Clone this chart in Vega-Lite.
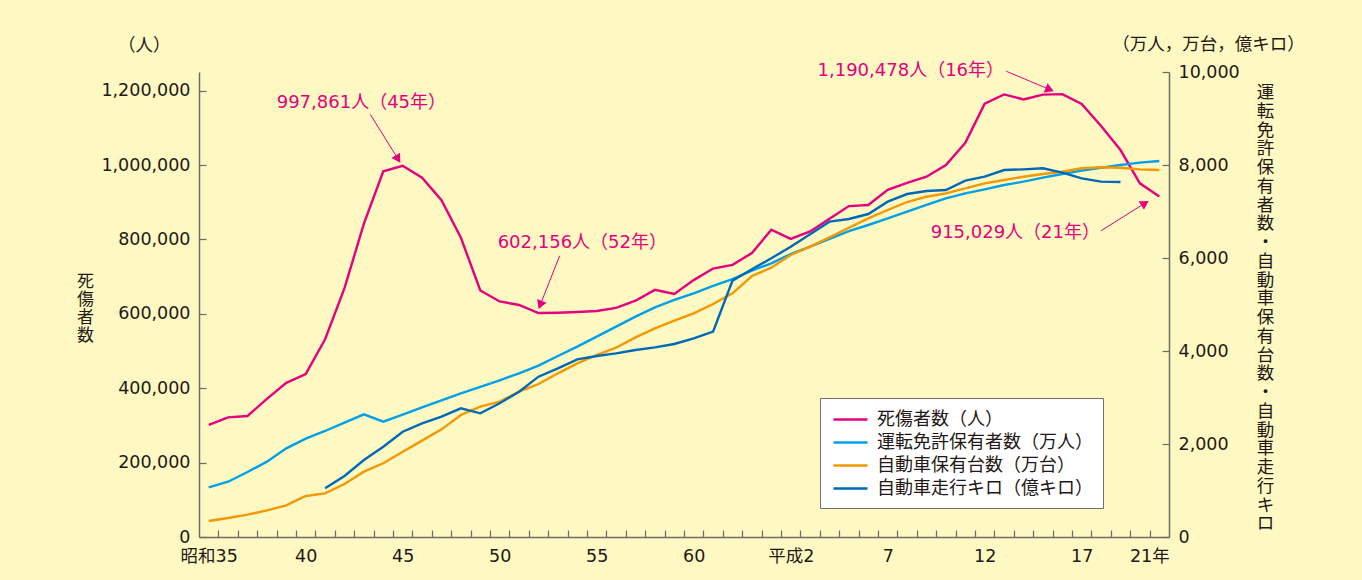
{
  "$schema": "https://vega.github.io/schema/vega-lite/v6.json",
  "width": 970,
  "height": 465,
  "autosize": "none",
  "padding": {"left": 199, "top": 72, "right": 193, "bottom": 43},
  "background": "#FEF8C3",
  "config": {
    "view": {"stroke": null},
    "axis": {
      "domainColor": "#6b6b6b",
      "domainWidth": 1.5,
      "tickColor": "#6b6b6b",
      "tickWidth": 1.2,
      "grid": false,
      "labelColor": "#231815",
      "labelFont": "DejaVu Sans, Noto Sans CJK JP",
      "labelFontSize": 17.5,
      "titleColor": "#231815",
      "titleFont": "Noto Sans CJK JP",
      "titleFontWeight": "normal"
    }
  },
  "datasets": {
    "series": [
      {"year": 1960, "s": "死傷者数（人）", "v": 301211},
      {"year": 1961, "s": "死傷者数（人）", "v": 321562},
      {"year": 1962, "s": "死傷者数（人）", "v": 325258},
      {"year": 1963, "s": "死傷者数（人）", "v": 371390},
      {"year": 1964, "s": "死傷者数（人）", "v": 414435},
      {"year": 1965, "s": "死傷者数（人）", "v": 438150},
      {"year": 1966, "s": "死傷者数（人）", "v": 531679},
      {"year": 1967, "s": "死傷者数（人）", "v": 668995},
      {"year": 1968, "s": "死傷者数（人）", "v": 842327},
      {"year": 1969, "s": "死傷者数（人）", "v": 983257},
      {"year": 1970, "s": "死傷者数（人）", "v": 997861},
      {"year": 1971, "s": "死傷者数（人）", "v": 965967},
      {"year": 1972, "s": "死傷者数（人）", "v": 905116},
      {"year": 1973, "s": "死傷者数（人）", "v": 804522},
      {"year": 1974, "s": "死傷者数（人）", "v": 662852},
      {"year": 1975, "s": "死傷者数（人）", "v": 633259},
      {"year": 1976, "s": "死傷者数（人）", "v": 623691},
      {"year": 1977, "s": "死傷者数（人）", "v": 602156},
      {"year": 1978, "s": "死傷者数（人）", "v": 602899},
      {"year": 1979, "s": "死傷者数（人）", "v": 604748},
      {"year": 1980, "s": "死傷者数（人）", "v": 607479},
      {"year": 1981, "s": "死傷者数（人）", "v": 616065},
      {"year": 1982, "s": "死傷者数（人）", "v": 635265},
      {"year": 1983, "s": "死傷者数（人）", "v": 664342},
      {"year": 1984, "s": "死傷者数（人）", "v": 653583},
      {"year": 1985, "s": "死傷者数（人）", "v": 690607},
      {"year": 1986, "s": "死傷者数（人）", "v": 721647},
      {"year": 1987, "s": "死傷者数（人）", "v": 731526},
      {"year": 1988, "s": "死傷者数（人）", "v": 763189},
      {"year": 1989, "s": "死傷者数（人）", "v": 825918},
      {"year": 1990, "s": "死傷者数（人）", "v": 801522},
      {"year": 1991, "s": "死傷者数（人）", "v": 821354},
      {"year": 1992, "s": "死傷者数（人）", "v": 855455},
      {"year": 1993, "s": "死傷者数（人）", "v": 889575},
      {"year": 1994, "s": "死傷者数（人）", "v": 892372},
      {"year": 1995, "s": "死傷者数（人）", "v": 933356},
      {"year": 1996, "s": "死傷者数（人）", "v": 952146},
      {"year": 1997, "s": "死傷者数（人）", "v": 968565},
      {"year": 1998, "s": "死傷者数（人）", "v": 999887},
      {"year": 1999, "s": "死傷者数（人）", "v": 1059403},
      {"year": 2000, "s": "死傷者数（人）", "v": 1164763},
      {"year": 2001, "s": "死傷者数（人）", "v": 1189786},
      {"year": 2002, "s": "死傷者数（人）", "v": 1176355},
      {"year": 2003, "s": "死傷者数（人）", "v": 1189133},
      {"year": 2004, "s": "死傷者数（人）", "v": 1190478},
      {"year": 2005, "s": "死傷者数（人）", "v": 1163984},
      {"year": 2006, "s": "死傷者数（人）", "v": 1104916},
      {"year": 2007, "s": "死傷者数（人）", "v": 1040189},
      {"year": 2008, "s": "死傷者数（人）", "v": 950659},
      {"year": 2009, "s": "死傷者数（人）", "v": 915029},

      {"year": 1960, "s": "運転免許保有者数（万人）", "v": 1069},
      {"year": 1961, "s": "運転免許保有者数（万人）", "v": 1189},
      {"year": 1962, "s": "運転免許保有者数（万人）", "v": 1398},
      {"year": 1963, "s": "運転免許保有者数（万人）", "v": 1620},
      {"year": 1964, "s": "運転免許保有者数（万人）", "v": 1907},
      {"year": 1965, "s": "運転免許保有者数（万人）", "v": 2114},
      {"year": 1966, "s": "運転免許保有者数（万人）", "v": 2280},
      {"year": 1967, "s": "運転免許保有者数（万人）", "v": 2458},
      {"year": 1968, "s": "運転免許保有者数（万人）", "v": 2638},
      {"year": 1969, "s": "運転免許保有者数（万人）", "v": 2480},
      {"year": 1970, "s": "運転免許保有者数（万人）", "v": 2630},
      {"year": 1971, "s": "運転免許保有者数（万人）", "v": 2790},
      {"year": 1972, "s": "運転免許保有者数（万人）", "v": 2940},
      {"year": 1973, "s": "運転免許保有者数（万人）", "v": 3090},
      {"year": 1974, "s": "運転免許保有者数（万人）", "v": 3230},
      {"year": 1975, "s": "運転免許保有者数（万人）", "v": 3370},
      {"year": 1976, "s": "運転免許保有者数（万人）", "v": 3520},
      {"year": 1977, "s": "運転免許保有者数（万人）", "v": 3684},
      {"year": 1978, "s": "運転免許保有者数（万人）", "v": 3892},
      {"year": 1979, "s": "運転免許保有者数（万人）", "v": 4093},
      {"year": 1980, "s": "運転免許保有者数（万人）", "v": 4308},
      {"year": 1981, "s": "運転免許保有者数（万人）", "v": 4523},
      {"year": 1982, "s": "運転免許保有者数（万人）", "v": 4738},
      {"year": 1983, "s": "運転免許保有者数（万人）", "v": 4939},
      {"year": 1984, "s": "運転免許保有者数（万人）", "v": 5097},
      {"year": 1985, "s": "運転免許保有者数（万人）", "v": 5241},
      {"year": 1986, "s": "運転免許保有者数（万人）", "v": 5398},
      {"year": 1987, "s": "運転免許保有者数（万人）", "v": 5548},
      {"year": 1988, "s": "運転免許保有者数（万人）", "v": 5727},
      {"year": 1989, "s": "運転免許保有者数（万人）", "v": 5886},
      {"year": 1990, "s": "運転免許保有者数（万人）", "v": 6086},
      {"year": 1991, "s": "運転免許保有者数（万人）", "v": 6243},
      {"year": 1992, "s": "運転免許保有者数（万人）", "v": 6409},
      {"year": 1993, "s": "運転免許保有者数（万人）", "v": 6577},
      {"year": 1994, "s": "運転免許保有者数（万人）", "v": 6710},
      {"year": 1995, "s": "運転免許保有者数（万人）", "v": 6853},
      {"year": 1996, "s": "運転免許保有者数（万人）", "v": 6996},
      {"year": 1997, "s": "運転免許保有者数（万人）", "v": 7140},
      {"year": 1998, "s": "運転免許保有者数（万人）", "v": 7283},
      {"year": 1999, "s": "運転免許保有者数（万人）", "v": 7391},
      {"year": 2000, "s": "運転免許保有者数（万人）", "v": 7477},
      {"year": 2001, "s": "運転免許保有者数（万人）", "v": 7570},
      {"year": 2002, "s": "運転免許保有者数（万人）", "v": 7641},
      {"year": 2003, "s": "運転免許保有者数（万人）", "v": 7727},
      {"year": 2004, "s": "運転免許保有者数（万人）", "v": 7806},
      {"year": 2005, "s": "運転免許保有者数（万人）", "v": 7878},
      {"year": 2006, "s": "運転免許保有者数（万人）", "v": 7942},
      {"year": 2007, "s": "運転免許保有者数（万人）", "v": 8000},
      {"year": 2008, "s": "運転免許保有者数（万人）", "v": 8050},
      {"year": 2009, "s": "運転免許保有者数（万人）", "v": 8086},

      {"year": 1960, "s": "自動車保有台数（万台）", "v": 344},
      {"year": 1961, "s": "自動車保有台数（万台）", "v": 409},
      {"year": 1962, "s": "自動車保有台数（万台）", "v": 480},
      {"year": 1963, "s": "自動車保有台数（万台）", "v": 574},
      {"year": 1964, "s": "自動車保有台数（万台）", "v": 681},
      {"year": 1965, "s": "自動車保有台数（万台）", "v": 882},
      {"year": 1966, "s": "自動車保有台数（万台）", "v": 939},
      {"year": 1967, "s": "自動車保有台数（万台）", "v": 1140},
      {"year": 1968, "s": "自動車保有台数（万台）", "v": 1405},
      {"year": 1969, "s": "自動車保有台数（万台）", "v": 1585},
      {"year": 1970, "s": "自動車保有台数（万台）", "v": 1835},
      {"year": 1971, "s": "自動車保有台数（万台）", "v": 2072},
      {"year": 1972, "s": "自動車保有台数（万台）", "v": 2315},
      {"year": 1973, "s": "自動車保有台数（万台）", "v": 2624},
      {"year": 1974, "s": "自動車保有台数（万台）", "v": 2803},
      {"year": 1975, "s": "自動車保有台数（万台）", "v": 2910},
      {"year": 1976, "s": "自動車保有台数（万台）", "v": 3125},
      {"year": 1977, "s": "自動車保有台数（万台）", "v": 3290},
      {"year": 1978, "s": "自動車保有台数（万台）", "v": 3520},
      {"year": 1979, "s": "自動車保有台数（万台）", "v": 3735},
      {"year": 1980, "s": "自動車保有台数（万台）", "v": 3914},
      {"year": 1981, "s": "自動車保有台数（万台）", "v": 4071},
      {"year": 1982, "s": "自動車保有台数（万台）", "v": 4294},
      {"year": 1983, "s": "自動車保有台数（万台）", "v": 4488},
      {"year": 1984, "s": "自動車保有台数（万台）", "v": 4652},
      {"year": 1985, "s": "自動車保有台数（万台）", "v": 4811},
      {"year": 1986, "s": "自動車保有台数（万台）", "v": 5011},
      {"year": 1987, "s": "自動車保有台数（万台）", "v": 5241},
      {"year": 1988, "s": "自動車保有台数（万台）", "v": 5613},
      {"year": 1989, "s": "自動車保有台数（万台）", "v": 5791},
      {"year": 1990, "s": "自動車保有台数（万台）", "v": 6065},
      {"year": 1991, "s": "自動車保有台数（万台）", "v": 6243},
      {"year": 1992, "s": "自動車保有台数（万台）", "v": 6445},
      {"year": 1993, "s": "自動車保有台数（万台）", "v": 6650},
      {"year": 1994, "s": "自動車保有台数（万台）", "v": 6853},
      {"year": 1995, "s": "自動車保有台数（万台）", "v": 7032},
      {"year": 1996, "s": "自動車保有台数（万台）", "v": 7204},
      {"year": 1997, "s": "自動車保有台数（万台）", "v": 7318},
      {"year": 1998, "s": "自動車保有台数（万台）", "v": 7391},
      {"year": 1999, "s": "自動車保有台数（万台）", "v": 7499},
      {"year": 2000, "s": "自動車保有台数（万台）", "v": 7606},
      {"year": 2001, "s": "自動車保有台数（万台）", "v": 7677},
      {"year": 2002, "s": "自動車保有台数（万台）", "v": 7748},
      {"year": 2003, "s": "自動車保有台数（万台）", "v": 7806},
      {"year": 2004, "s": "自動車保有台数（万台）", "v": 7856},
      {"year": 2005, "s": "自動車保有台数（万台）", "v": 7929},
      {"year": 2006, "s": "自動車保有台数（万台）", "v": 7950},
      {"year": 2007, "s": "自動車保有台数（万台）", "v": 7942},
      {"year": 2008, "s": "自動車保有台数（万台）", "v": 7907},
      {"year": 2009, "s": "自動車保有台数（万台）", "v": 7892},

      {"year": 1966, "s": "自動車走行キロ（億キロ）", "v": 1047},
      {"year": 1967, "s": "自動車走行キロ（億キロ）", "v": 1312},
      {"year": 1968, "s": "自動車走行キロ（億キロ）", "v": 1656},
      {"year": 1969, "s": "自動車走行キロ（億キロ）", "v": 1942},
      {"year": 1970, "s": "自動車走行キロ（億キロ）", "v": 2265},
      {"year": 1971, "s": "自動車走行キロ（億キロ）", "v": 2445},
      {"year": 1972, "s": "自動車走行キロ（億キロ）", "v": 2587},
      {"year": 1973, "s": "自動車走行キロ（億キロ）", "v": 2768},
      {"year": 1974, "s": "自動車走行キロ（億キロ）", "v": 2660},
      {"year": 1975, "s": "自動車走行キロ（億キロ）", "v": 2875},
      {"year": 1976, "s": "自動車走行キロ（億キロ）", "v": 3125},
      {"year": 1977, "s": "自動車走行キロ（億キロ）", "v": 3448},
      {"year": 1978, "s": "自動車走行キロ（億キロ）", "v": 3627},
      {"year": 1979, "s": "自動車走行キロ（億キロ）", "v": 3821},
      {"year": 1980, "s": "自動車走行キロ（億キロ）", "v": 3892},
      {"year": 1981, "s": "自動車走行キロ（億キロ）", "v": 3950},
      {"year": 1982, "s": "自動車走行キロ（億キロ）", "v": 4022},
      {"year": 1983, "s": "自動車走行キロ（億キロ）", "v": 4079},
      {"year": 1984, "s": "自動車走行キロ（億キロ）", "v": 4151},
      {"year": 1985, "s": "自動車走行キロ（億キロ）", "v": 4272},
      {"year": 1986, "s": "自動車走行キロ（億キロ）", "v": 4416},
      {"year": 1987, "s": "自動車走行キロ（億キロ）", "v": 5512},
      {"year": 1988, "s": "自動車走行キロ（億キロ）", "v": 5757},
      {"year": 1989, "s": "自動車走行キロ（億キロ）", "v": 5993},
      {"year": 1990, "s": "自動車走行キロ（億キロ）", "v": 6243},
      {"year": 1991, "s": "自動車走行キロ（億キロ）", "v": 6509},
      {"year": 1992, "s": "自動車走行キロ（億キロ）", "v": 6781},
      {"year": 1993, "s": "自動車走行キロ（億キロ）", "v": 6839},
      {"year": 1994, "s": "自動車走行キロ（億キロ）", "v": 6946},
      {"year": 1995, "s": "自動車走行キロ（億キロ）", "v": 7211},
      {"year": 1996, "s": "自動車走行キロ（億キロ）", "v": 7376},
      {"year": 1997, "s": "自動車走行キロ（億キロ）", "v": 7441},
      {"year": 1998, "s": "自動車走行キロ（億キロ）", "v": 7462},
      {"year": 1999, "s": "自動車走行キロ（億キロ）", "v": 7663},
      {"year": 2000, "s": "自動車走行キロ（億キロ）", "v": 7749},
      {"year": 2001, "s": "自動車走行キロ（億キロ）", "v": 7892},
      {"year": 2002, "s": "自動車走行キロ（億キロ）", "v": 7907},
      {"year": 2003, "s": "自動車走行キロ（億キロ）", "v": 7929},
      {"year": 2004, "s": "自動車走行キロ（億キロ）", "v": 7835},
      {"year": 2005, "s": "自動車走行キロ（億キロ）", "v": 7713},
      {"year": 2006, "s": "自動車走行キロ（億キロ）", "v": 7642},
      {"year": 2007, "s": "自動車走行キロ（億キロ）", "v": 7634}
    ],
    "notes": [
      {"label": "997,861人（45年）", "year": 1967.87, "value": 1166240},
      {"label": "602,156人（52年）", "year": 1979.26, "value": 789020},
      {"label": "1,190,478人（16年）", "year": 1996.19, "value": 1252030},
      {"label": "915,029人（21年）", "year": 2001.58, "value": 818510}
    ],
    "units": [
      {"label": "（人）", "year": 1956.68, "value": 1320920},
      {"label": "（万人，万台，億キロ）", "year": 2011.53, "value": 1323600}
    ],
    "arrows": [
      {"id": 1, "x1": 1968.33, "y1": 1135940, "x2": 1969.76, "y2": 1016100},
      {"id": 2, "x1": 1978.09, "y1": 756030, "x2": 1977.09, "y2": 623860},
      {"id": 3, "x1": 2001.11, "y1": 1252030, "x2": 2003.35, "y2": 1202960},
      {"id": 4, "x1": 2005.99, "y1": 823070, "x2": 2008.26, "y2": 897320}
    ]
  },
  "layer": [
    {
      "data": {"name": "series"},
      "transform": [{"filter": "datum.s == '死傷者数（人）'"}],
      "mark": {"type": "line", "strokeWidth": 2.4},
      "encoding": {
        "x": {
          "field": "year", "type": "quantitative",
          "scale": {"domain": [1959.5, 2009.5], "nice": false, "zero": false},
          "axis": {
            "orient": "bottom",
            "title": null,
            "values": [1960, 1965, 1970, 1975, 1980, 1985, 1990, 1995, 2000, 2005, 2009],
            "ticks": false,
            "domain": false,
            "labelPadding": 10,
            "labelOverlap": false,
            "labelFlush": false,
            "labelOffset": {"condition": {"test": "datum.value == 2009", "value": -10}, "value": 0},
            "labelExpr": "datum.value == 1960 ? '昭和35' : datum.value == 1990 ? '平成2' : datum.value == 2009 ? '21年' : datum.value < 1989 ? '' + (datum.value - 1925) : '' + (datum.value - 1988)"
          }
        },
        "y": {
          "field": "v", "type": "quantitative",
          "scale": {"domain": [0, 1250000], "nice": false},
          "axis": {
            "orient": "left",
            "values": [0, 200000, 400000, 600000, 800000, 1000000, 1200000],
            "format": ",d",
            "tickSize": -7,
            "labelPadding": 16,
            "title": ["死","傷","者","数"],
            "titleAngle": 0,
            "titleX": -114,
            "titleY": 209,
            "titleAlign": "center",
            "titleBaseline": "middle",
            "titleFontSize": 17,
            "titleLineHeight": 18
          }
        },
        "color": {
          "field": "s", "type": "nominal",
          "scale": {
            "domain": ["死傷者数（人）", "運転免許保有者数（万人）", "自動車保有台数（万台）", "自動車走行キロ（億キロ）"],
            "range": ["#E4007F", "#00A0E9", "#F39800", "#0068B7"]
          },
          "legend": {
            "orient": "none",
            "legendX": 621,
            "legendY": 326,
            "title": null,
            "symbolType": "M-0.8,0H2.6",
            "symbolSize": 400,
            "symbolStrokeWidth": 2.5,
            "labelOffset": 24,
            "labelFont": "Noto Sans CJK JP",
            "labelFontSize": 18,
            "labelColor": "#231815",
            "labelLimit": 400,
            "rowPadding": 2,
            "padding": 10,
            "fillColor": "#FFFFFF",
            "strokeColor": "#707070"
          }
        }
      }
    },
    {
      "data": {"name": "series"},
      "transform": [{"filter": "datum.s != '死傷者数（人）'"}],
      "mark": {"type": "line", "strokeWidth": 2.4},
      "encoding": {
        "x": {
          "field": "year", "type": "quantitative",
          "scale": {"domain": [1959.5, 2009.5], "nice": false, "zero": false},
          "axis": {
            "orient": "bottom",
            "title": null,
            "values": [1960.5,1961.5,1962.5,1963.5,1964.5,1965.5,1966.5,1967.5,1968.5,1969.5,1970.5,1971.5,1972.5,1973.5,1974.5,1975.5,1976.5,1977.5,1978.5,1979.5,1980.5,1981.5,1982.5,1983.5,1984.5,1985.5,1986.5,1987.5,1988.5,1989.5,1990.5,1991.5,1992.5,1993.5,1994.5,1995.5,1996.5,1997.5,1998.5,1999.5,2000.5,2001.5,2002.5,2003.5,2004.5,2005.5,2006.5,2007.5,2008.5],
            "labels": false,
            "tickSize": -7,
            "domain": true
          }
        },
        "y": {
          "field": "v", "type": "quantitative",
          "scale": {"domain": [0, 10000], "nice": false},
          "axis": {
            "orient": "right",
            "values": [0, 2000, 4000, 6000, 8000, 10000],
            "format": ",d",
            "tickSize": -7,
            "labelPadding": 16,
            "title": ["運","転","免","許","保","有","者","数","・","自","動","車","保","有","台","数","・","自","動","車","走","行","キ","ロ"],
            "titleAngle": 0,
            "titleX": 96,
            "titleY": 20.5,
            "titleAlign": "center",
            "titleBaseline": "middle",
            "titleFontSize": 17.5,
            "titleLineHeight": 18.75
          }
        },
        "color": {"field": "s", "type": "nominal"}
      }
    },
    {
      "data": {"name": "arrows"},
      "mark": {"type": "rule", "color": "#E4007F", "strokeWidth": 1},
      "encoding": {
        "x": {"field": "x1", "type": "quantitative", "scale": {"domain": [1959.5, 2009.5], "nice": false, "zero": false}, "axis": null},
        "x2": {"field": "x2"},
        "y": {"field": "y1", "type": "quantitative", "scale": {"domain": [0, 1250000], "nice": false}, "axis": null},
        "y2": {"field": "y2"}
      }
    },
    {
      "data": {"name": "arrows"},
      "transform": [{"filter": "datum.id == 1"}],
      "mark": {"type": "point", "shape": "triangle-up", "filled": true, "color": "#E4007F", "opacity": 1, "size": 100, "angle": 148.2},
      "encoding": {
        "x": {"field": "x2", "type": "quantitative", "scale": {"domain": [1959.5, 2009.5], "nice": false, "zero": false}, "axis": null},
        "y": {"field": "y2", "type": "quantitative", "scale": {"domain": [0, 1250000], "nice": false}, "axis": null}
      }
    },
    {
      "data": {"name": "arrows"},
      "transform": [{"filter": "datum.id == 2"}],
      "mark": {"type": "point", "shape": "triangle-up", "filled": true, "color": "#E4007F", "opacity": 1, "size": 100, "angle": 201.5},
      "encoding": {
        "x": {"field": "x2", "type": "quantitative", "scale": {"domain": [1959.5, 2009.5], "nice": false, "zero": false}, "axis": null},
        "y": {"field": "y2", "type": "quantitative", "scale": {"domain": [0, 1250000], "nice": false}, "axis": null}
      }
    },
    {
      "data": {"name": "arrows"},
      "transform": [{"filter": "datum.id == 3"}],
      "mark": {"type": "point", "shape": "triangle-up", "filled": true, "color": "#E4007F", "opacity": 1, "size": 100, "angle": 112.9},
      "encoding": {
        "x": {"field": "x2", "type": "quantitative", "scale": {"domain": [1959.5, 2009.5], "nice": false, "zero": false}, "axis": null},
        "y": {"field": "y2", "type": "quantitative", "scale": {"domain": [0, 1250000], "nice": false}, "axis": null}
      }
    },
    {
      "data": {"name": "arrows"},
      "transform": [{"filter": "datum.id == 4"}],
      "mark": {"type": "point", "shape": "triangle-up", "filled": true, "color": "#E4007F", "opacity": 1, "size": 100, "angle": 57.8},
      "encoding": {
        "x": {"field": "x2", "type": "quantitative", "scale": {"domain": [1959.5, 2009.5], "nice": false, "zero": false}, "axis": null},
        "y": {"field": "y2", "type": "quantitative", "scale": {"domain": [0, 1250000], "nice": false}, "axis": null}
      }
    },
    {
      "data": {"name": "notes"},
      "mark": {"type": "text", "font": "DejaVu Sans, Noto Sans CJK JP", "fontSize": 18, "color": "#E4007F", "align": "center", "baseline": "middle"},
      "encoding": {
        "x": {"field": "year", "type": "quantitative", "scale": {"domain": [1959.5, 2009.5], "nice": false, "zero": false}, "axis": null},
        "y": {"field": "value", "type": "quantitative", "scale": {"domain": [0, 1250000], "nice": false}, "axis": null},
        "text": {"field": "label"}
      }
    },
    {
      "data": {"name": "units"},
      "mark": {"type": "text", "font": "Noto Sans CJK JP", "fontSize": 17.5, "color": "#231815", "align": "center", "baseline": "middle"},
      "encoding": {
        "x": {"field": "year", "type": "quantitative", "scale": {"domain": [1959.5, 2009.5], "nice": false, "zero": false}, "axis": null},
        "y": {"field": "value", "type": "quantitative", "scale": {"domain": [0, 1250000], "nice": false}, "axis": null},
        "text": {"field": "label"}
      }
    }
  ],
  "resolve": {"scale": {"y": "independent"}, "axis": {"x": "independent"}}
}
